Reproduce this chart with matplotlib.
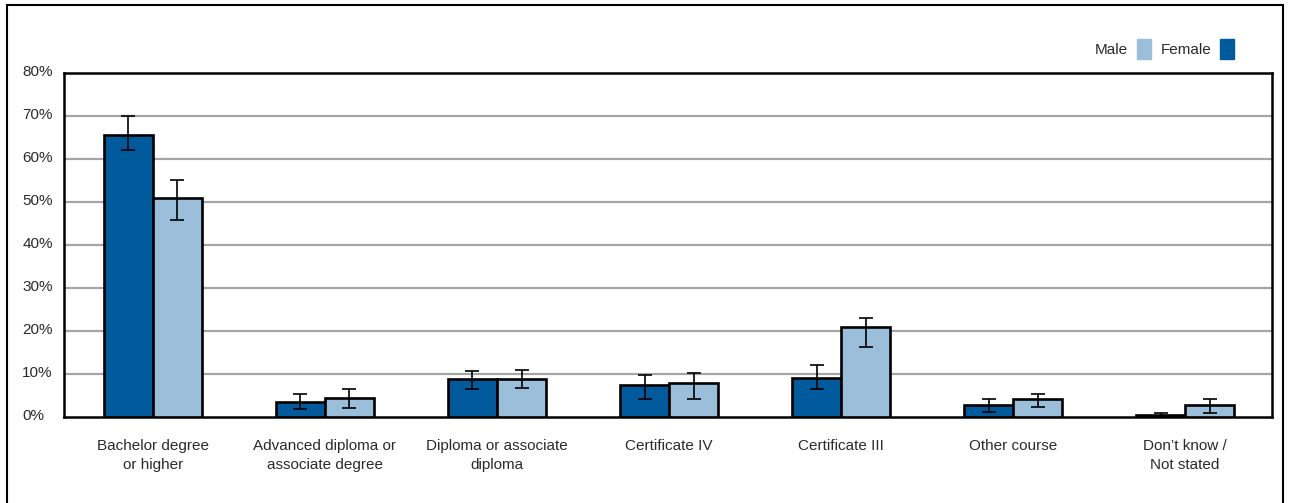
import matplotlib
matplotlib.use("Agg")
import matplotlib.pyplot as plt
import matplotlib.transforms as mtransforms
from matplotlib.patches import Rectangle
import numpy as np

plt.rcParams['font.family'] = ['Liberation Sans Narrow', 'Liberation Sans', 'DejaVu Sans']

# categories and values (%)
categories = ["Bachelor degree\nor higher", "Advanced diploma or\nassociate degree",
              "Diploma or associate\ndiploma", "Certificate IV", "Certificate III",
              "Other course", "Don\u2019t know /\nNot stated"]
female = [65.6, 3.5, 8.8, 7.4, 9.1, 2.8, 0.5]
female_lo = [62.1, 1.9, 6.5, 4.2, 6.5, 1.2, 0.1]
female_hi = [70.0, 5.3, 10.7, 9.8, 12.1, 4.2, 0.9]
male = [50.9, 4.4, 8.8, 7.9, 20.9, 4.2, 2.8]
male_lo = [45.8, 2.1, 6.7, 4.2, 16.3, 2.3, 0.9]
male_hi = [55.1, 6.5, 10.9, 10.2, 23.0, 5.3, 4.2]
yticks = [0, 10, 20, 30, 40, 50, 60, 70, 80]

dark = "#005a9c"
light = "#9bbfda"
txt = "#2a2a2a"

fig = plt.figure(figsize=(12.91, 5.03), dpi=100)
ax = fig.add_axes([64/1291, 86/503, (1272-64)/1291, (417-73)/503])

x = np.arange(len(categories))
w = 0.285
fe_err = [np.array(female) - np.array(female_lo), np.array(female_hi) - np.array(female)]
ma_err = [np.array(male) - np.array(male_lo), np.array(male_hi) - np.array(male)]

ax.bar(x - w/2, female, w, color=dark, edgecolor="black", linewidth=1.9, zorder=3,
       yerr=fe_err, error_kw=dict(ecolor="black", elinewidth=1.2, capsize=5, capthick=1.2, zorder=4))
ax.bar(x + w/2, male, w, color=light, edgecolor="black", linewidth=1.9, zorder=3,
       yerr=ma_err, error_kw=dict(ecolor="black", elinewidth=1.2, capsize=5, capthick=1.2, zorder=4))

ax.set_xlim(-0.517, 6.505)
ax.set_ylim(0, 80)
ax.set_yticks(yticks)
ax.set_yticklabels([f"{t}%" for t in yticks])
for t in yticks[1:-1]:
    ax.axhline(t, color="#a5a5a5", linewidth=1.6, zorder=1)

ax.set_xticks(x)
ax.set_xticklabels(categories, fontsize=11, color=txt, linespacing=1.45)
ax.tick_params(axis="x", length=0, pad=16)
ax.tick_params(axis="y", length=0, pad=30, labelsize=11, labelcolor=txt)
offset = mtransforms.ScaledTranslation(0, 2/72, fig.dpi_scale_trans)
for lab in ax.get_yticklabels():
    lab.set_horizontalalignment("left")
    lab.set_transform(lab.get_transform() + offset)

for s in ax.spines.values():
    s.set_linewidth(1.8)
    s.set_color("black")

# legend
fig.text(1128/1291, 1 - 50/503, "Male", ha="right", va="center", fontsize=11, color=txt)
fig.patches.append(Rectangle((1137/1291, 1 - 59/503), 14/1291, 20/503,
                             transform=fig.transFigure, color=light))
fig.text(1211/1291, 1 - 50/503, "Female", ha="right", va="center", fontsize=11, color=txt)
fig.patches.append(Rectangle((1220/1291, 1 - 59/503), 14/1291, 20/503,
                             transform=fig.transFigure, color=dark))

# outer frame
fig.patches.append(Rectangle((7/1291, -0.05), (1283-7)/1291, 1.05 - 5/503,
                             transform=fig.transFigure, fill=False, edgecolor="black", linewidth=1.5))

fig.savefig("out.png", dpi=100)
